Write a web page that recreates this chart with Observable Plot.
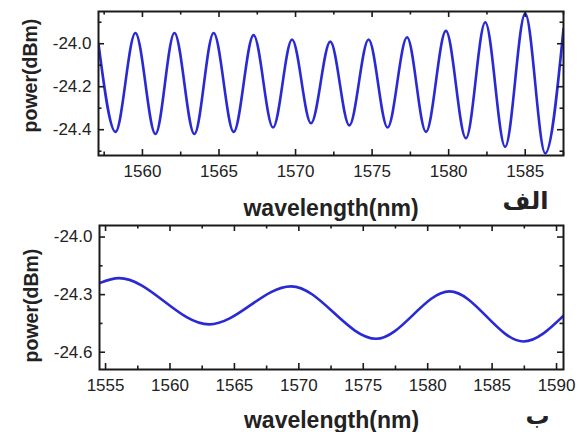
<!DOCTYPE html>
<html><head><meta charset="utf-8">
<script src="https://cdn.jsdelivr.net/npm/d3@7"></script>
<script src="https://cdn.jsdelivr.net/npm/@observablehq/plot@0.6"></script>
<style>
html,body{margin:0;padding:0;background:#fff;}
#wrap{position:relative;width:582px;height:432px;overflow:hidden;background:#fff;}
#wrap svg{display:block;}
</style></head><body><div id="wrap"></div>
<script>
// ---- Panel (a) "الف" data: extrema ----
const topWavelength = [1557.13, 1558.24, 1559.54, 1560.85, 1562.09, 1563.39, 1564.65, 1565.96, 1567.26, 1568.53,
  1569.77, 1571.01, 1572.27, 1573.51, 1574.77, 1576.01, 1577.28, 1578.52, 1579.82, 1581.13,
  1582.39, 1583.69, 1585.00, 1586.31, 1587.5];
const topPower = [-24.00, -24.41, -23.95, -24.42, -23.95, -24.42, -23.95, -24.41, -23.96, -24.39,
  -23.98, -24.37, -23.99, -24.38, -23.98, -24.39, -23.97, -24.41, -23.94, -24.44,
  -23.90, -24.48, -23.86, -24.51, -23.93];
const topXTicks = [1560, 1565, 1570, 1575, 1580, 1585];
const topXMinor = [1557.5, 1562.5, 1567.5, 1572.5, 1577.5, 1582.5, 1587.5];
const topYTicks = [-24.0, -24.2, -24.4];
const topYMinor = [-24.5, -24.3, -24.1, -23.9];
const topTag = "الف";

// ---- Panel (b) "ب" data ----
const botWavelength = [1554.53, 1556.04, 1563.04, 1569.4, 1576.0, 1581.7, 1587.43, 1590.54];
const botPower = [-24.24, -24.214, -24.455, -24.257, -24.53, -24.283, -24.544, -24.41];
const botXTicks = [1555, 1560, 1565, 1570, 1575, 1580, 1585, 1590];
const botXMinor = [1557.5, 1562.5, 1567.5, 1572.5, 1577.5, 1582.5, 1587.5];
const botYTicks = [-24.0, -24.3, -24.6];
const botYMinor = [-24.15, -24.45];
const botTag = "ب";

const xLabel = "wavelength(nm)";
const yLabel = "power(dBm)";

const FONT = "'Liberation Sans', Arial, Helvetica, sans-serif";
const LINE = "#2a2ad4";
const INK = "#1a1a1a";
const W = 582;

function panel(c) {
  const innerH = c.height - c.mt - c.mb;
  const innerW = W - c.ml - c.mr;
  const data = c.xs.map((x, i) => ({x, y: c.ys[i]}));
  return Plot.plot({
    width: W, height: c.height,
    marginTop: c.mt, marginBottom: c.mb, marginLeft: c.ml, marginRight: c.mr,
    style: {fontFamily: FONT, fontSize: "17px", color: INK, background: "white", overflow: "visible"},
    x: {domain: c.xDomain},
    y: {domain: c.yDomain},
    marks: [
      Plot.line(data, {x: "x", y: "y", curve: "monotone-x", stroke: LINE, strokeWidth: 2.6, clip: true}),
      // inward ticks, bottom & top
      Plot.ruleX(c.xTicks, {x: d => d, insetTop: innerH - 6, stroke: INK, strokeWidth: 1.6}),
      Plot.ruleX(c.xTicks, {x: d => d, insetBottom: innerH - 6, stroke: INK, strokeWidth: 1.6}),
      Plot.ruleX(c.xMinor, {x: d => d, insetTop: innerH - 3.5, stroke: INK, strokeWidth: 1.6}),
      Plot.ruleX(c.xMinor, {x: d => d, insetBottom: innerH - 3.5, stroke: INK, strokeWidth: 1.6}),
      // inward ticks, left & right
      Plot.ruleY(c.yTicks, {y: d => d, insetRight: innerW - 6, stroke: INK, strokeWidth: 1.6}),
      Plot.ruleY(c.yTicks, {y: d => d, insetLeft: innerW - 6, stroke: INK, strokeWidth: 1.6}),
      Plot.ruleY(c.yMinor, {y: d => d, insetRight: innerW - 3.5, stroke: INK, strokeWidth: 1.6}),
      Plot.ruleY(c.yMinor, {y: d => d, insetLeft: innerW - 3.5, stroke: INK, strokeWidth: 1.6}),
      Plot.frame({stroke: INK, strokeWidth: 2}),
      Plot.axisX(c.xTicks, {tickSize: 0, tickPadding: 9, fontSize: 17, tickFormat: d => String(d), label: null, fill: "#222"}),
      Plot.axisY(c.yTicks, {tickSize: 0, tickPadding: 7, fontSize: 17, tickFormat: d => d.toFixed(1), label: null, fill: "#222"}),
      Plot.text([xLabel], {text: d => d, frameAnchor: "bottom", dy: c.xLabelDy, lineAnchor: "middle",
        textAnchor: "middle", fontSize: 23, fontWeight: "bold", fill: "#222"}),
      Plot.text([yLabel], {text: d => d, frameAnchor: "left", rotate: -90, dx: -68, dy: c.yLabelDy,
        textAnchor: "middle", lineAnchor: "middle", fontSize: 19.5, fontWeight: "bold", fill: "#222"}),
      Plot.text([c.tag], {text: d => d, frameAnchor: "bottom-right", dx: c.tagDx, dy: c.tagDy,
        lineAnchor: "middle", textAnchor: "middle", fontFamily: "'DejaVu Sans', 'Noto Sans', sans-serif",
        fontSize: 24, fontWeight: "bold", fill: "#222"})
    ]
  });
}

const wrap = document.getElementById("wrap");
wrap.appendChild(panel({
  xs: topWavelength, ys: topPower,
  xDomain: [1557.13, 1587.5], yDomain: [-24.52, -23.85],
  xTicks: topXTicks, xMinor: topXMinor, yTicks: topYTicks, yMinor: topYMinor,
  height: 216, mt: 11, mb: 61, ml: 98, mr: 19,
  xLabelDy: 53, yLabelDy: -8, tag: topTag, tagDx: -38, tagDy: 46
}));
wrap.appendChild(panel({
  xs: botWavelength, ys: botPower,
  xDomain: [1554.53, 1590.54], yDomain: [-24.69, -23.94],
  xTicks: botXTicks, xMinor: botXMinor, yTicks: botYTicks, yMinor: botYMinor,
  height: 216, mt: 9, mb: 63, ml: 99, mr: 19,
  xLabelDy: 51, yLabelDy: 8, tag: botTag, tagDx: -26, tagDy: 47
}));
</script></body></html>
